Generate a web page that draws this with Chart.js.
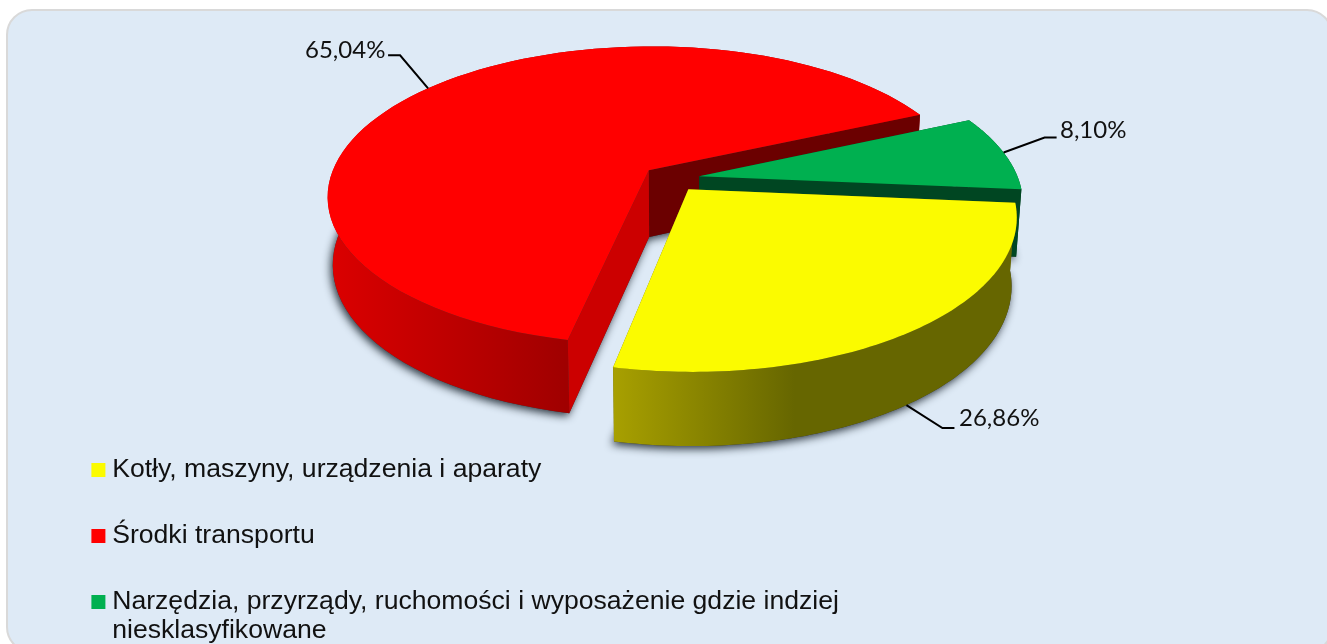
<!DOCTYPE html>
<html><head><meta charset="utf-8">
<style>html,body{margin:0;padding:0;background:#fff;overflow:hidden}canvas{display:block}</style>
<script src="https://cdn.jsdelivr.net/npm/chart.js@4/dist/chart.umd.min.js"></script>
</head><body>
<canvas id="c" width="1327" height="644"></canvas>
<script>
const categories = [
  'Kotły, maszyny, urządzenia i aparaty',
  'Środki transportu',
  ['Narzędzia, przyrządy, ruchomości i wyposażenie gdzie indziej', 'niesklasyfikowane']
];
const values = [26.86, 65.04, 8.10];
const topColors = ['#fbfb00', '#ff0000', '#00b050'];
const rimStops = [
  [[0, '#a8a000'], [0.45, '#666600'], [1, '#666600']],
  [[0, '#dc0000'], [1, '#a00000']],
  [[0, '#00461f'], [1, '#00461f']]
];
const cutColors = [['#666600', '#666600'], ['#6b0000', '#cc0000'], ['#004622', '#004622']];
const drawOrder = [1, 2, 0];
const labelLeaders = [
  {elbow: [36, 23], run: 12, text: [959, 418], bottom: true, shift: 1},
  {elbow: [-28, -33], run: -12, text: [305, 50], shift: 0},
  {elbow: [41, -15], run: 12, text: [1060, 130], shift: 0}
];

const V = {cx: 671, cy: 178.5, a: 319, b: 147.5, k: 0.17, explode: 0.09, H: 67, m: 0.10, q: 0.985};
function proj(X, Y, bottom) {
  const s = 1 / (1 - V.k * Y);
  if (!bottom) return [V.cx + V.a * X * s, V.cy + V.b * Y * s];
  return [V.cx + V.a * V.q * X * s, V.cy + V.b * Y * s + V.H * (1 + V.m * Y)];
}
function poly(ctx, pts, fill) {
  ctx.beginPath();
  pts.forEach((p, i) => i ? ctx.lineTo(p[0], p[1]) : ctx.moveTo(p[0], p[1]));
  ctx.closePath();
  ctx.fillStyle = fill;
  ctx.fill();
}
function sliceGeom(arc) {
  const mid = (arc.startAngle + arc.endAngle) / 2;
  const ox = V.explode * Math.cos(mid), oy = V.explode * Math.sin(mid);
  const n = 90, ring = [];
  for (let i = 0; i <= n; i++) {
    const t = arc.startAngle + (arc.endAngle - arc.startAngle) * i / n;
    ring.push([ox + Math.cos(t), oy + Math.sin(t)]);
  }
  return {mid, ox, oy, ring};
}
const pie3d = {
  id: 'pie3d',
  beforeDraw(chart) {
    const c = chart.ctx;
    c.save();
    c.beginPath();
    c.roundRect(7, 10, 1325, 642, 25);
    c.fillStyle = '#deeaf6';
    c.fill();
    c.lineWidth = 2;
    c.strokeStyle = '#d9d9d9';
    c.stroke();
    c.restore();
  },
  beforeDatasetDraw() { return false; },
  afterDatasetsDraw(chart) {
    const c = chart.ctx, arcs = chart.getDatasetMeta(0).data;
    const geo = arcs.map(sliceGeom);
    c.save();
    // soft shadow under every slice
    c.shadowColor = 'rgba(35,45,55,0.95)';
    c.shadowBlur = 9;
    c.shadowOffsetX = -2;
    c.shadowOffsetY = 3;
    geo.forEach(g => {
      const pts = [proj(g.ox, g.oy, true)].concat(g.ring.map(p => proj(p[0], p[1], true)));
      poly(c, pts, '#333');
    });
    c.shadowColor = 'transparent';
    drawOrder.forEach(i => {
      const g = geo[i];
      const top = g.ring.map(p => proj(p[0], p[1], false));
      const bot = g.ring.map(p => proj(p[0], p[1], true));
      const apT = proj(g.ox, g.oy, false), apB = proj(g.ox, g.oy, true);
      const last = top.length - 1;
      const cuts = () => {
        poly(c, [apT, top[last], bot[last], apB], cutColors[i][0]);
        poly(c, [apT, top[0], bot[0], apB], cutColors[i][1]);
      };
      if (i === 0) cuts();
      // outer wall
      const xs = top.concat(bot).filter(p => p[1] > V.cy - 5).map(p => p[0]);
      let grad;
      if (i === 1) grad = c.createLinearGradient(Math.min(...xs), 0, top[0][0] - 2, 0);
      else grad = c.createLinearGradient(Math.min(...xs), 0, Math.max(...xs), 0);
      rimStops[i].forEach(s => grad.addColorStop(s[0], s[1]));
      poly(c, top.concat(bot.slice().reverse()), grad);
      if (i !== 0) cuts();
      // top face
      poly(c, [apT].concat(top), topColors[i]);
    });
    // leaders and value labels
    c.strokeStyle = '#000';
    c.lineWidth = 2;
    c.fillStyle = '#111';
    c.font = '24px Lato';
    c.textAlign = 'left';
    c.textBaseline = 'middle';
    geo.forEach((g, i) => {
      const L = labelLeaders[i];
      const t = g.mid + L.shift * Math.PI / 180;
      const X = g.ox + Math.cos(t), Y = g.oy + Math.sin(t);
      const p = proj(X, Y, !!L.bottom);
      const ex = p[0] + L.elbow[0], ey = p[1] + L.elbow[1];
      c.beginPath();
      c.moveTo(p[0], p[1]);
      c.lineTo(ex, ey);
      c.lineTo(ex + L.run, ey);
      c.stroke();
      c.fillText(values[i].toFixed(2).replace('.', ',') + '%', L.text[0], L.text[1]);
    });
    c.restore();
  }
};
new Chart(document.getElementById('c'), {
  type: 'pie',
  data: {
    labels: categories,
    datasets: [{data: values, backgroundColor: topColors, borderWidth: 0}]
  },
  options: {
    responsive: false,
    animation: false,
    rotation: 95,
    events: [],
    layout: {padding: {left: 58.5, bottom: -42}},
    plugins: {
      tooltip: {enabled: false},
      legend: {
        position: 'left',
        align: 'end',
        maxWidth: 1000,
        labels: {
          usePointStyle: true,
          pointStyle: 'rect',
          boxWidth: 1,
          boxHeight: 14,
          padding: 39.4,
          color: '#111',
          font: {family: '"Liberation Sans", Arial, sans-serif', size: 26.6, lineHeight: 1.09}
        }
      }
    }
  },
  plugins: [pie3d]
});
</script>
</body></html>
